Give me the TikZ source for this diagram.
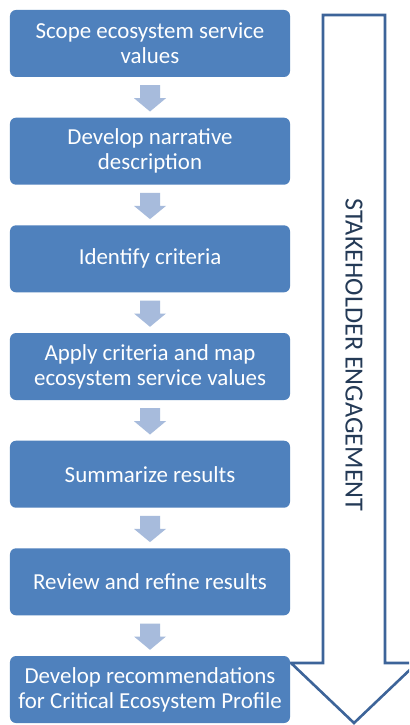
\documentclass[tikz,border=0pt]{standalone}
\usepackage{fontspec}
\setmainfont{Carlito}
\usetikzlibrary{calc}
\definecolor{boxblue}{HTML}{4F81BD}
\definecolor{arrowlight}{HTML}{A7BBDC}
\definecolor{outlineblue}{HTML}{3D6499}
\definecolor{textdark}{HTML}{243A56}
\tikzset{
  stepbox/.style={fill=boxblue, draw=none, rounded corners=6bp, minimum width=280bp, minimum height=67bp,
    inner sep=0pt, align=center, text=white, font=\fontsize{23}{25}\selectfont},
  smallarrow/.style={fill=arrowlight, draw=none},
  bigarrow/.style={draw=outlineblue, line width=2.6bp, fill=white, line join=miter},
}
\begin{document}
\begin{tikzpicture}[x=1bp, y=-1bp]
\useasboundingbox (0,0) rectangle (409,725);
\fill[white] (0,0) rectangle (409,725);
% big arrow
\begin{scope}
\clip (0,0) rectangle (409,725);
\draw[bigarrow] (323,15) -- (385,15) -- (385,663) -- (417,663) -- (354,723) -- (291,663) -- (323,663) -- cycle;
\end{scope}
\node[rotate=-90, text=textdark, font=\fontsize{26.3}{28}\selectfont] (se) at (354,355) {STAKEHOLDER ENGAGEMENT};
% boxes
\node[stepbox] (b1) at (150,43.5) {Scope ecosystem service\\values};
\node[stepbox] (b2) at (150,151.2) {Develop narrative\\description};
\node[stepbox] (b3) at (150,258.8) {Identify criteria};
\node[stepbox] (b4) at (150,366.5) {Apply criteria and map\\ecosystem service values};
\node[stepbox] (b5) at (150,474.2) {Summarize results};
\node[stepbox] (b6) at (150,581.8) {Review and refine results};
\node[stepbox] (b7) at (150,689.5) {Develop recommendations\\for Critical Ecosystem Profile};
% small arrows
\foreach \a/\b in {b1/b2,b2/b3,b3/b4,b4/b5,b5/b6,b6/b7}{
  \fill[smallarrow] ($(\a.south)+(-10,8)$) -- ++(20,0) -- ++(0,13) -- ++(6,0)
    -- ($(\b.north)+(0,-6)$) -- ($(\a.south)+(-16,21)$) -- ++(6,0) -- cycle;
}
\end{tikzpicture}
\end{document}
